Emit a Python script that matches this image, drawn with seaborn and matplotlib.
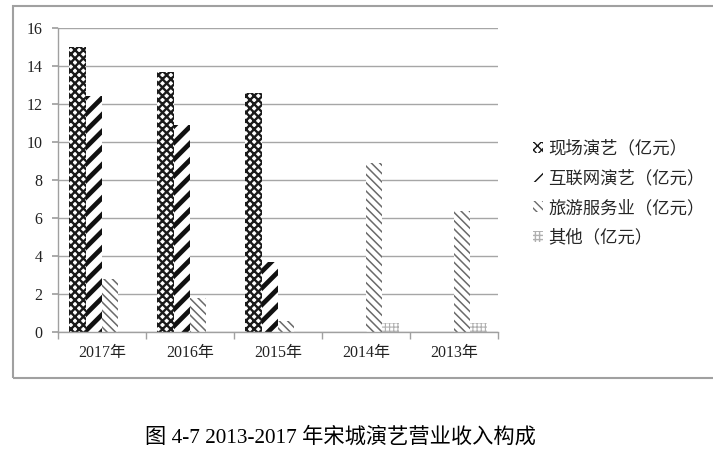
import numpy as np
import pandas as pd
import seaborn as sns
import matplotlib.pyplot as plt
from matplotlib.patches import Patch, Rectangle
from matplotlib.ticker import MultipleLocator, FixedLocator

# data
years = ["2017年", "2016年", "2015年", "2014年", "2013年"]
series = ["现场演艺（亿元）", "互联网演艺（亿元）", "旅游服务业（亿元）", "其他（亿元）"]
live_show = [15.0, 13.7, 12.6, 0, 0]
online_show = [12.4, 10.9, 3.7, 0, 0]
tourism = [2.8, 1.8, 0.6, 8.9, 6.35]
other = [0, 0, 0, 0.5, 0.45]

# hatch styles per series: (face, hatch colour, hatch, hatch lw)
styles = [
    ("white", "#1a1a1a", "xxxx", 1.7),
    ("white", "#111111", "//", 3.4),
    ("white", "#6a6a6a", "\\\\\\\\", 1.1),
    ("white", "#b0b0b0", "++++", 0.8),
]


def main():
  sns.set_theme(style="white")
  cjk = ["Noto Sans CJK SC", "DejaVu Sans"]
  serif = ["Liberation Serif", "Noto Sans CJK SC"]
  plt.rcParams["font.family"] = cjk

  df = pd.DataFrame({
      "year": np.repeat(years, len(series)),
      "series": series * len(years),
      "value": [v for row in zip(live_show, online_show, tourism, other) for v in row],
  })

  fig = plt.figure(figsize=(7.13, 4.51), dpi=100)
  ax = fig.add_axes([58 / 713, 1 - 332 / 451, 440 / 713, 304 / 451])

  sns.barplot(data=df, x="year", y="value", hue="series", order=years,
              hue_order=series, width=0.74, gap=0, ax=ax, legend=False)

  for cont, (fc, hc, hatch, hlw) in zip(ax.containers, styles):
    for bar in cont:
      bar.set_facecolor(fc)
      bar.set_edgecolor(hc)
      bar.set_linewidth(0)
      bar.set_hatch(hatch)
      if hasattr(bar, "set_hatch_linewidth"):
        bar.set_hatch_linewidth(hlw)

  ax.set_ylim(0, 16)
  ax.set_xlim(-0.5, 4.5)
  ax.yaxis.set_major_locator(MultipleLocator(2))
  ax.grid(axis="y", color="#a6a6a6", linewidth=1.0)
  ax.set_axisbelow(True)
  for s in ["top", "right"]:
    ax.spines[s].set_visible(False)
  for s in ["left", "bottom"]:
    ax.spines[s].set_color("#a0a0a0")
    ax.spines[s].set_linewidth(1.0)

  ax.set_xlabel("")
  ax.set_ylabel("")
  ax.tick_params(axis="y", which="major", left=True, length=4, color="#a0a0a0",
                 labelsize=11.5, pad=7, labelcolor="#222222")
  ax.tick_params(axis="x", which="major", length=0, labelsize=11.5, pad=9,
                 labelcolor="#222222")
  ax.xaxis.set_minor_locator(FixedLocator(np.arange(-0.5, 5, 1)))
  ax.tick_params(axis="x", which="minor", bottom=True, length=5, color="#a0a0a0")
  for lab in ax.get_yticklabels() + ax.get_xticklabels():
    lab.set_fontfamily(serif)

  handles = []
  for fc, hc, hatch, hlw in styles:
    p = Patch(facecolor=fc, edgecolor=hc, hatch=hatch, linewidth=0)
    handles.append(p)
  fig.legend(handles, series, loc="center left", bbox_to_anchor=(526 / 713, 1 - 193 / 451),
             frameon=False, fontsize=12.5, handlelength=0.6, handleheight=0.6,
             handletextpad=0.3, labelspacing=0.68, borderaxespad=0)

  # outer chart frame
  fig.patches.append(Rectangle((13 / 713, 1 - 378 / 451), 710 / 713, 372 / 451,
                               transform=fig.transFigure, fill=False,
                               edgecolor="#a0a0a0", linewidth=1.5))

  fig.text(340 / 713, 1 - 437 / 451, "图 4-7 2013-2017 年宋城演艺营业收入构成",
           ha="center", va="center", fontsize=15.3, family=serif, color="black")

  fig.savefig("out.png", dpi=100)


if __name__ == "__main__":
  main()
